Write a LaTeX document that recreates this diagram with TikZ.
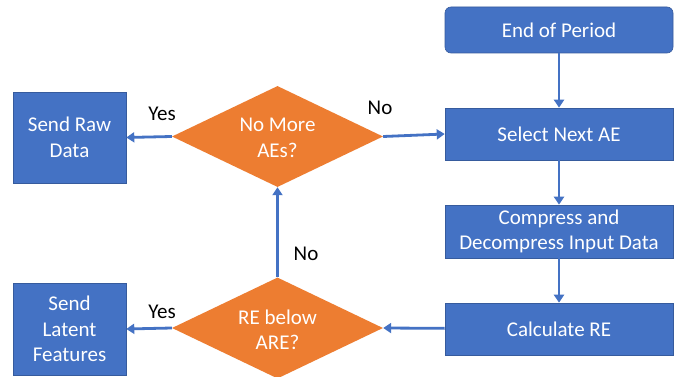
\documentclass[tikz,border=0pt]{standalone}
\usepackage{fontspec}
\setmainfont{Carlito}
\usetikzlibrary{shapes.geometric,arrows.meta}
\definecolor{obl}{HTML}{4472C4}
\definecolor{oor}{HTML}{ED7D31}
\begin{document}
\begin{tikzpicture}[x=1pt,y=-1pt,
  every node/.style={font=\fontsize{21}{25.5}\selectfont},
  box/.style={draw=obl!80!black, line width=0.6pt, fill=obl, text=white, align=center, inner sep=0pt},
  dia/.style={diamond, fill=oor, inner sep=0pt, minimum width=211pt, minimum height=101pt},
  dtext/.style={text=white, align=center},
  lbl/.style={text=black},
  arr/.style={draw=obl, line width=2.8pt, -{Triangle[width=10pt,length=8pt]}}]
\useasboundingbox (0,0) rectangle (675,377);
\fill[white] (0,0) rectangle (675,377);
\node[box, rounded corners=6pt, minimum width=228pt, minimum height=46pt] (end) at (559,30) {End of Period};
\node[box, minimum width=228pt, minimum height=52pt] (sel) at (559,134) {Select Next AE};
\node[box, minimum width=228pt, minimum height=53pt] (comp) at (559,231.5) {Compress and\\Decompress Input Data};
\node[box, minimum width=228pt, minimum height=52pt] (calc) at (559,329) {Calculate RE};
\node[box, minimum width=113pt, minimum height=91pt] (raw) at (69.5,137.5) {Send Raw\\Data};
\node[box, minimum width=113pt, minimum height=92pt] (lat) at (69.5,329) {Send\\Latent\\Features};
\node[dia] (d1) at (277.5,136.5) {};
\node[dtext] (t1) at (277.5,138) {No More\\AEs?};
\node[dia] (d2) at (277.5,328) {};
\node[dtext] (t2) at (277.5,330) {RE below\\ARE?};
\draw[arr] (end) -- (sel);
\draw[arr] (sel) -- (comp);
\draw[arr] (comp) -- (calc);
\draw[arr] (calc) -- (d2.east);
\draw[arr] (d2.north) -- (d1.south);
\draw[arr] (d1.east) -- (sel.west);
\draw[arr] (d1.west) -- (raw.east);
\draw[arr] (d2.west) -- (lat.east);
\node[lbl] (y1) at (162,114) {Yes};
\node[lbl] (n1) at (380,108) {No};
\node[lbl] (n2) at (306,254) {No};
\node[lbl] (y2) at (162,312) {Yes};
\end{tikzpicture}
\end{document}
